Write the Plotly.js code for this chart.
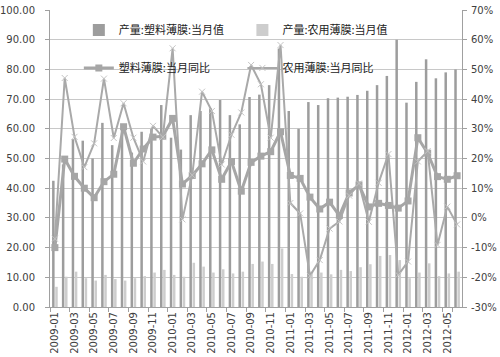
<!DOCTYPE html>
<html>
<head>
<meta charset="utf-8">
<script src="https://cdn.plot.ly/plotly-3.0.1.min.js"></script>
<style>html,body{margin:0;padding:0;background:#fff;}#chart{width:500px;height:357px;}</style>
</head>
<body>
<div id="chart"></div>
<script>
const months = ["2009-01","2009-02","2009-03","2009-04","2009-05","2009-06","2009-07","2009-08","2009-09","2009-10","2009-11","2009-12",
"2010-01","2010-02","2010-03","2010-04","2010-05","2010-06","2010-07","2010-08","2010-09","2010-10","2010-11","2010-12",
"2011-01","2011-02","2011-03","2011-04","2011-05","2011-06","2011-07","2011-08","2011-09","2011-10","2011-11","2011-12",
"2012-01","2012-02","2012-03","2012-04","2012-05","2012-06"];
const plasticOutput = [42.5,48,56.5,56,50,62,54.5,61,52,59,60,68,
57,53,64.6,66,67,69.7,64.6,61.5,70.7,71.5,74.7,87,
66,60,69,68,70.3,70.5,70.8,71.4,72.8,74.7,77.8,90,
68.8,75.8,83.4,77,79,80];
const agriOutput = [6.8,10.2,11.9,9.7,8.9,10.8,9.4,8.9,9.7,10.4,11.6,12.5,
10.8,10.2,14.9,13.6,11.6,12.7,11.3,11.9,14.5,15.3,14.5,19.7,
11.1,10.2,11.9,11.6,11.0,12.5,12.1,13.4,14.4,17.2,17.5,15.8,
9.7,11.6,14.7,10.4,11.3,11.9];
const plasticYoY = [-10,19.8,14,10,6.8,12.2,14.7,30.7,18.4,23.2,27.2,27.5,
33.5,11.4,14.3,18.2,22.9,13,19,9,18.7,20.8,22.3,29,
14.3,13.3,7,3,5.3,0.8,8.4,11.1,3.7,4.9,4.2,3.3,
5.7,27,21.8,13.9,13,14.2];
const agriYoY = [-7,47.1,27.3,17.1,25.1,46.9,26.9,38.6,27,19,31,27.2,
57.1,-0.5,14.4,42.5,36,18,28,35.5,51.5,45,27,58.2,
5,1.5,-19.5,-14.2,-3.6,-1.2,7.5,11.6,-1.3,11.8,21.5,-19.2,
-14.7,19,22.5,-9.1,3.8,-2.2];
const tickLabels = months.filter((m,i)=>i%2===0);
const pctTicks = [-30,-20,-10,0,10,20,30,40,50,60,70];
const pctLabels = pctTicks.map(v => v + '%');

const cjk = '"Noto Sans CJK SC", "Noto Sans", sans-serif';
const tickFont = {family:'"DejaVu Sans", sans-serif', size:10, color:'#404040'};

const traces = [
  {type:'bar', name:'产量:塑料薄膜:当月值', x:months, y:plasticOutput, marker:{color:'#9d9d9d'}, legend:'legend'},
  {type:'bar', name:'产量:农用薄膜:当月值', x:months, y:agriOutput, marker:{color:'#cdcdcd'}, legend:'legend2'},
  {type:'scatter', mode:'lines+markers', name:'塑料薄膜:当月同比', x:months, y:plasticYoY, yaxis:'y2',
   line:{color:'#a6a6a6', width:3}, marker:{symbol:'square', size:7, color:'#a6a6a6'}, legend:'legend3'},
  {type:'scatter', mode:'lines+markers', name:'农用薄膜:当月同比', x:months, y:agriYoY, yaxis:'y2',
   line:{color:'#a9a9a9', width:2}, marker:{symbol:'x-thin', size:6, color:'#c4c4c4', line:{color:'#c4c4c4', width:1}}, legend:'legend4'}
];

const legBase = {xanchor:'left', yanchor:'middle', bgcolor:'rgba(0,0,0,0)', borderwidth:0,
  font:{family:cjk, size:11, color:'#222'}, itemwidth:30};

const layout = {
  width:500, height:357,
  margin:{l:50, r:38, t:10, b:50},
  paper_bgcolor:'#fff', plot_bgcolor:'#fff',
  barmode:'group', bargap:0.36, bargroupgap:0.2,
  showlegend:true,
  legend: Object.assign({x:0.07, y:0.933}, legBase),
  legend2: Object.assign({x:0.467, y:0.933}, legBase),
  legend3: Object.assign({x:0.07, y:0.805}, legBase),
  legend4: Object.assign({x:0.467, y:0.805}, legBase),
  xaxis:{type:'category', range:[-0.5, 41.5], tickmode:'array', tickvals:tickLabels, ticktext:tickLabels,
    tickangle:-90, tickson:'boundaries', ticks:'outside', ticklen:4, tickcolor:'#a0a0a0',
    showline:true, linecolor:'#a0a0a0', linewidth:1, showgrid:false, tickfont:tickFont, fixedrange:true},
  yaxis:{range:[0,100], dtick:10, tickformat:'.2f', showgrid:true, gridcolor:'#c8c8c8', gridwidth:1,
    showline:true, linecolor:'#a0a0a0', ticks:'outside', ticklen:4, tickcolor:'#a0a0a0',
    zeroline:false, tickfont:tickFont, ticklabelstandoff:8},
  yaxis2:{overlaying:'y', side:'right', range:[-30,70], tickmode:'array', tickvals:pctTicks, ticktext:pctLabels,
    showgrid:false, showline:true, linecolor:'#a0a0a0', ticks:'outside', ticklen:4, tickcolor:'#a0a0a0',
    zeroline:false, tickfont:tickFont, ticklabelstandoff:2}
};

Plotly.newPlot('chart', traces, layout, {displayModeBar:false, staticPlot:true});
</script>
</body>
</html>
